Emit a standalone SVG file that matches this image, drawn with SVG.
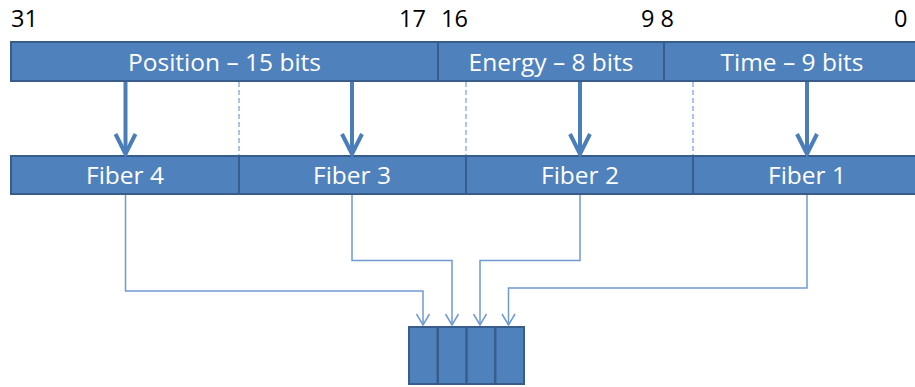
<svg xmlns="http://www.w3.org/2000/svg" width="915" height="387" viewBox="0 0 915 387">
  <style>
    .seg { fill: #4F81BD; stroke: #385D8A; stroke-width: 2; }
    .lbl { font-family: "Open Sans", "Liberation Sans", sans-serif; font-size: 24.5px; fill: #FFFFFF; text-anchor: middle; }
    .num { font-family: "Open Sans", "Liberation Sans", sans-serif; font-size: 23.5px; fill: #000000; }
    .thick { stroke: #4A7EBB; stroke-width: 4; fill: none; }
    .thin { stroke: #6F9BD1; stroke-width: 1.5; fill: none; }
    .dash { stroke: #8FB3E0; stroke-width: 1.5; stroke-dasharray: 5 3; fill: none; }
  </style>
  <defs>
    <marker id="bigHead" markerUnits="userSpaceOnUse" viewBox="-24 -14 28 28" refX="0" refY="0" markerWidth="28" markerHeight="28" orient="auto">
      <path d="M-20,-10 L0,0 L-20,10" fill="none" stroke="#4A7EBB" stroke-width="4"/>
    </marker>
    <marker id="smallHead" markerUnits="userSpaceOnUse" viewBox="-14 -9 16 18" refX="0" refY="0" markerWidth="16" markerHeight="18" orient="auto">
      <path d="M-11,-6.5 L0,0 L-11,6.5" fill="none" stroke="#6F9BD1" stroke-width="1.5"/>
    </marker>
  </defs>

  <!-- bit indices -->
  <g id="bit-numbers">
    <text class="num" x="11" y="27">31</text>
    <text class="num" x="399" y="27">17</text>
    <text class="num" x="441" y="27">16</text>
    <text class="num" x="641" y="27">9 8</text>
    <text class="num" x="894" y="27">0</text>
  </g>

  <!-- 32-bit word fields -->
  <g id="field-position">
    <rect class="seg" x="11" y="42" width="427" height="39"/>
    <text class="lbl" x="224.5" y="71">Position – 15 bits</text>
  </g>
  <g id="field-energy">
    <rect class="seg" x="438" y="42" width="226" height="39"/>
    <text class="lbl" x="551" y="71">Energy – 8 bits</text>
  </g>
  <g id="field-time">
    <rect class="seg" x="664" y="42" width="254" height="39"/>
    <text class="lbl" x="792" y="71">Time – 9 bits</text>
  </g>

  <!-- fiber lanes -->
  <g id="fiber-4">
    <rect class="seg" x="11" y="156" width="228" height="38"/>
    <text class="lbl" x="125" y="184">Fiber 4</text>
  </g>
  <g id="fiber-3">
    <rect class="seg" x="239" y="156" width="227" height="38"/>
    <text class="lbl" x="352" y="184">Fiber 3</text>
  </g>
  <g id="fiber-2">
    <rect class="seg" x="466" y="156" width="227" height="38"/>
    <text class="lbl" x="580" y="184">Fiber 2</text>
  </g>
  <g id="fiber-1">
    <rect class="seg" x="693" y="156" width="225" height="38"/>
    <text class="lbl" x="807" y="184">Fiber 1</text>
  </g>

  <!-- 4-slot buffer -->
  <g id="buffer">
    <rect class="seg" x="409" y="327" width="115" height="57" stroke-width="2.5"/>
    <line x1="437.75" y1="327" x2="437.75" y2="384" stroke="#385D8A" stroke-width="2.5"/>
    <line x1="466.5" y1="327" x2="466.5" y2="384" stroke="#385D8A" stroke-width="2.5"/>
    <line x1="495.25" y1="327" x2="495.25" y2="384" stroke="#385D8A" stroke-width="2.5"/>
  </g>

  <g id="connectors">
    <!-- lane boundaries -->
    <line class="dash" x1="239" y1="82" x2="239" y2="155"/>
    <line class="dash" x1="466" y1="82" x2="466" y2="155"/>
    <line class="dash" x1="693" y1="82" x2="693" y2="155"/>
    <!-- field to lane arrows -->
    <line class="thick" x1="125.5" y1="82" x2="125.5" y2="154" marker-end="url(#bigHead)"/>
    <line class="thick" x1="352" y1="82" x2="352" y2="154" marker-end="url(#bigHead)"/>
    <line class="thick" x1="580" y1="82" x2="580" y2="154" marker-end="url(#bigHead)"/>
    <line class="thick" x1="807" y1="82" x2="807" y2="154" marker-end="url(#bigHead)"/>
    <!-- lane to buffer routes -->
    <polyline class="thin" points="125.5,195 125.5,291 423,291 423,325" marker-end="url(#smallHead)"/>
    <polyline class="thin" points="352,195 352,260.5 452,260.5 452,325" marker-end="url(#smallHead)"/>
    <polyline class="thin" points="580,195 580,260.5 480,260.5 480,325" marker-end="url(#smallHead)"/>
    <polyline class="thin" points="807,195 807,288 508.5,288 508.5,325" marker-end="url(#smallHead)"/>
  </g>
</svg>
